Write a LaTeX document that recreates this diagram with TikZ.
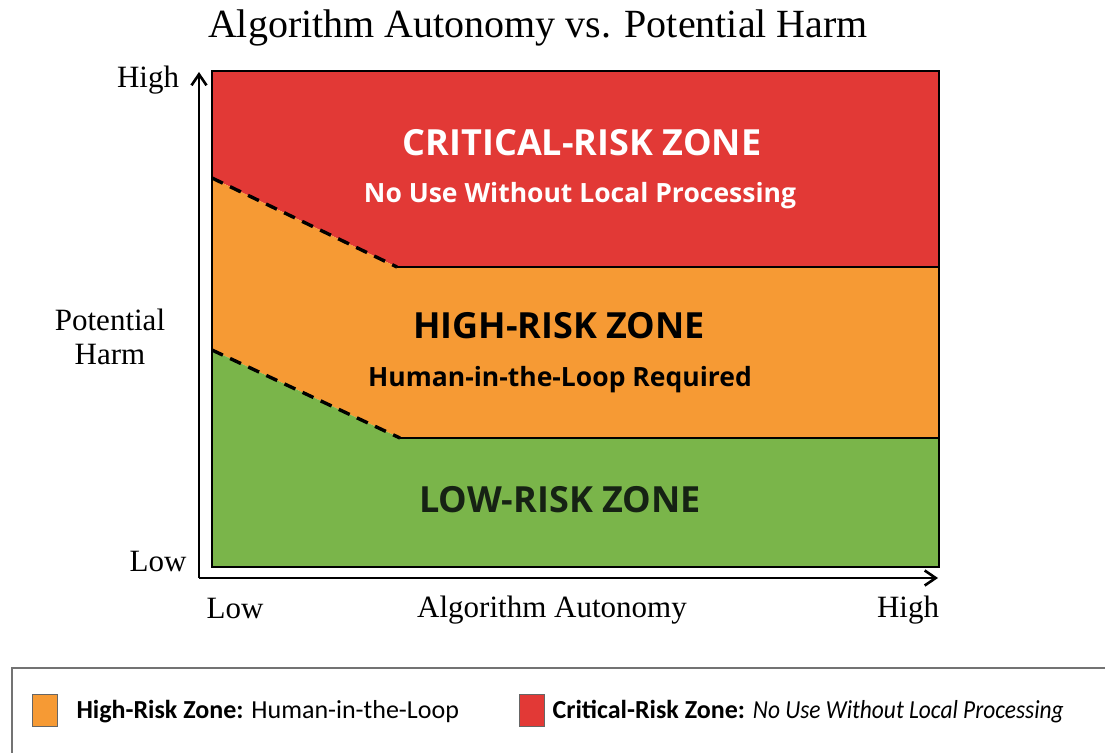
\documentclass[tikz,border=0pt]{standalone}
\usepackage{xcolor}
\usepackage{fontspec}
\setmainfont{Liberation Serif}
\newfontfamily\zonefont{Open Sans}
\newfontfamily\legfont{Carlito}
\newfontfamily\legnarrow[FakeStretch=0.9]{Carlito}
\usepackage{tikz}
\usetikzlibrary{arrows.meta,calc}

\definecolor{critred}{RGB}{226,57,54}
\definecolor{highorange}{RGB}{246,154,52}
\definecolor{lowgreen}{RGB}{122,181,74}
\definecolor{zoneink}{RGB}{22,34,20}

\begin{document}
\begin{tikzpicture}[x=1pt,y=-1pt,
    axislabel/.style={font=\fontsize{31}{34}\selectfont,text=black},
    zonetitle/.style={font=\zonefont\bfseries\fontsize{36}{40}\selectfont},
    zonenote/.style={font=\zonefont\bfseries\fontsize{26.5}{30}\selectfont},
    legtext/.style={font=\legfont\fontsize{26}{30}\selectfont,anchor=west},
    swatch/.style={draw=black!60,line width=0.6pt,minimum width=25pt,minimum height=32pt,inner sep=0pt}]
    \useasboundingbox (0,0) rectangle (1105,752);

    \node [font=\fontsize{40}{44}\selectfont] (title) at (538,28) {Algorithm Autonomy vs. Potential Harm};

    % corners of the plot area and the zone borders
    \coordinate (nw) at (212,71);
    \coordinate (ne) at (939,71);
    \coordinate (sw) at (212,567);
    \coordinate (se) at (939,567);
    \coordinate (critl) at (212,178);
    \coordinate (critk) at (397,267);
    \coordinate (critr) at (939,267);
    \coordinate (lowl) at (212,350);
    \coordinate (lowk) at (400,438);
    \coordinate (lowr) at (939,438);

    \fill [critred] (nw) -- (ne) -- (critr) -- (critk) -- (critl) -- cycle;
    \fill [highorange] (critl) -- (critk) -- (critr) -- (lowr) -- (lowk) -- (lowl) -- cycle;
    \fill [lowgreen] (lowl) -- (lowk) -- (lowr) -- (se) -- (sw) -- cycle;

    \draw [line width=3.4pt,dash pattern=on 12pt off 8pt] (critl) -- (critk);
    \draw [line width=3.4pt,dash pattern=on 12pt off 8pt] (lowl) -- (lowk);
    \draw [line width=1.5pt] (critk) -- (critr);
    \draw [line width=1.5pt] (lowk) -- (lowr);
    \draw [line width=2.2pt] (nw) rectangle (se);

    % axes
    \coordinate (origin) at (199,578);
    \coordinate (ytop) at (199,72);
    \coordinate (xend) at (938,578);
    \draw [-{Straight Barb[length=11pt,width=15pt]},line width=2.6pt] (origin) -- (ytop);
    \draw [-{Straight Barb[length=11pt,width=15pt]},line width=2.6pt] (origin) -- (xend);

    \node [axislabel] (yhigh) at (148,80) {High};
    \node [axislabel] (ylow) at (158,561) {Low};
    \node [axislabel,align=center,font=\fontsize{31}{34}\selectfont] (ylabel) at (110,337) {Potential\\Harm};
    \node [axislabel] (xlow) at (235,608) {Low};
    \node [axislabel] (xlabel) at (552,610) {Algorithm Autonomy};
    \node [axislabel] (xhigh) at (908,610) {High};

    % zone texts
    \node [zonetitle,text=white] (crittitle) at (582,143) {CRITICAL-RISK ZONE};
    \node [zonenote,text=white] (critnote) at (580,196) {No Use Without Local Processing};
    \node [zonetitle,text=black] (hightitle) at (559,326) {HIGH-RISK ZONE};
    \node [zonenote,text=black] (highnote) at (560,380) {Human-in-the-Loop Required};
    \node [zonetitle,text=zoneink] (lowtitle) at (560,500) {LOW-RISK ZONE};

    % legend
    \draw [black!55,line width=1.4pt] (12,760) -- (12,668) -- (1110,668);
    \node [swatch,fill=highorange] (highkey) at (45,710) {};
    \node [legtext] (highleg) at (73,712) {\textbf{High-Risk Zone:} Human-in-the-Loop};
    \node [swatch,fill=critred] (critkey) at (532,710) {};
    \node [legtext] (critleg) at (549,712) {\textbf{Critical-Risk Zone:} {\legnarrow\itshape No Use Without Local Processing}};
\end{tikzpicture}
\end{document}
